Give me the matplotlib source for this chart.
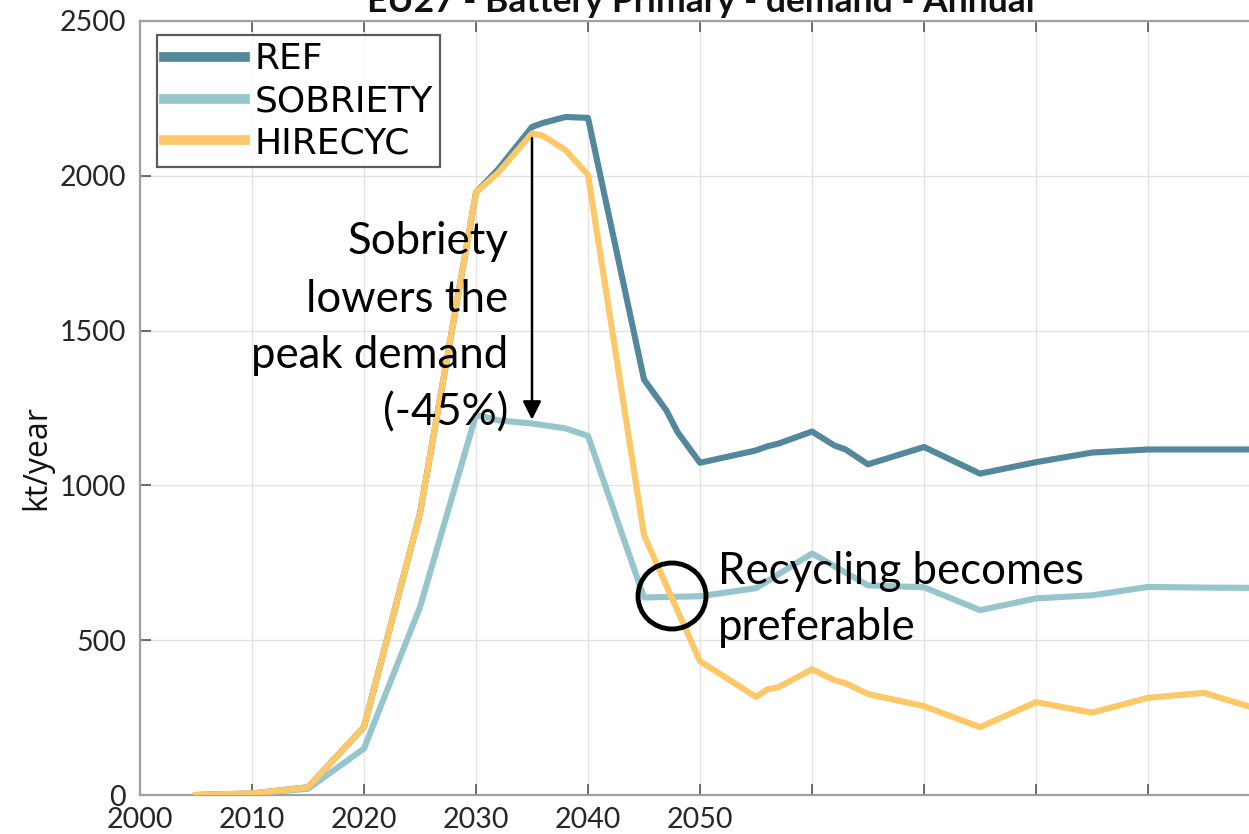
import matplotlib
matplotlib.use("Agg")
import matplotlib.pyplot as plt
from matplotlib.lines import Line2D
from matplotlib.patches import Ellipse

# ---------------- data ----------------
ref_years = [2005, 2010, 2015, 2020, 2025, 2030, 2032, 2035, 2036, 2038, 2040,
             2045, 2047, 2048, 2050, 2055, 2056, 2057, 2060, 2062, 2063, 2065,
             2070, 2075, 2080, 2085, 2090, 2095, 2100]
ref_vals = [0, 5, 25, 220, 910, 1946, 2022, 2158, 2171, 2190, 2187,
            1342, 1242, 1172, 1073, 1113, 1126, 1135, 1174, 1129, 1116, 1068,
            1124, 1038, 1075, 1106, 1116, 1116, 1116]

sob_years = [2005, 2010, 2015, 2020, 2025, 2030, 2032, 2035, 2038, 2040, 2045,
             2050, 2055, 2060, 2065, 2070, 2075, 2080, 2085, 2090, 2095, 2100]
sob_vals = [0, 5, 20, 150, 607, 1228, 1210, 1200, 1184, 1160, 638,
            642, 668, 780, 677, 671, 597, 635, 645, 672, 670, 669]

hir_years = [2005, 2010, 2015, 2020, 2025, 2030, 2032, 2035, 2036, 2038, 2040,
             2045, 2050, 2055, 2056, 2057, 2060, 2062, 2063, 2065, 2070, 2075,
             2080, 2085, 2090, 2095, 2100]
hir_vals = [0, 5, 25, 220, 910, 1946, 2011, 2137, 2129, 2083, 2003,
            839, 432, 317, 341, 348, 406, 371, 361, 326, 287, 219,
            300, 266, 314, 330, 275]

series_names = ["REF", "SOBRIETY", "HIRECYC"]
series_colors = ["#53879b", "#96c6cc", "#fdc868"]

x_ticks = list(range(2000, 2101, 10))
x_labels = ["2000", "2010", "2020", "2030", "2040", "2050", "", "", "", "", ""]
y_ticks = [0, 500, 1000, 1500, 2000, 2500]

title = "EU27 - Battery Primary - demand - Annual"
ylabel = "kt/year"
note_peak = ["Sobriety", "lowers the", "peak demand", "(-45%)"]
note_recycle = ["Recycling becomes", "preferable"]

# ---------------- figure ----------------
W, H = 1249, 834
fig = plt.figure(figsize=(W / 100, H / 100), dpi=100)
fig.patch.set_facecolor("white")

ax_left, ax_right, ax_top, ax_bottom = 140, 1260, 21, 795
ax = fig.add_axes([ax_left / W, 1 - ax_bottom / H,
                   (ax_right - ax_left) / W, (ax_bottom - ax_top) / H])
ax.set_xlim(2000, 2100)
ax.set_ylim(0, 2500)

ax.plot(ref_years, ref_vals, color=series_colors[0], lw=4.4, solid_joinstyle="round", zorder=3)
ax.plot(sob_years, sob_vals, color=series_colors[1], lw=4.4, solid_joinstyle="round", zorder=4)
ax.plot(hir_years, hir_vals, color=series_colors[2], lw=4.4, solid_joinstyle="round", zorder=5)

ax.set_xticks(x_ticks)
ax.set_xticklabels(x_labels)
ax.set_yticks(y_ticks)
ax.grid(True, color="#e2e2e2", lw=1.0, zorder=0)
ax.set_axisbelow(True)

for s in ax.spines.values():
    s.set_color("#a0a0a0")
    s.set_linewidth(1.6)

ax.tick_params(axis="both", direction="in", length=8, width=1.2, color="#555555",
               top=True, right=True, labelsize=20.5, labelcolor="#262626")
ax.tick_params(axis="x", pad=9)
ax.tick_params(axis="y", pad=10)
for lab in ax.get_xticklabels() + ax.get_yticklabels():
    lab.set_family(["Lato", "DejaVu Sans"])

# title (cut at the top like the reference)
fig.text(701 / W, 1 - 12 / H, title, ha="center", va="baseline",
         fontsize=25.5, fontweight="bold", family=["Lato", "DejaVu Sans"], color="#111111")

# y label
fig.text(37 / W, 1 - 458 / H, ylabel, rotation=90, ha="center", va="center",
         fontsize=23, family=["Open Sans", "DejaVu Sans"], color="#111111")

# legend
handles = [Line2D([0], [0], color=c, lw=7) for c in series_colors]
leg = ax.legend(handles, series_names, loc="upper left",
                bbox_to_anchor=((157 - 140) / 1120, (795 - 35) / 774),
                borderaxespad=0, frameon=True, fancybox=False,
                prop={"family": ["DejaVu Sans"], "size": 26},
                handlelength=2.25, handletextpad=0.25, labelspacing=0.22,
                borderpad=0.2)
leg.get_frame().set_edgecolor("#333333")
leg.get_frame().set_linewidth(1.6)
leg.set_zorder(10)

# annotation: arrow
ax.annotate("", xy=(2035, 1212), xytext=(2035, 2122),
            arrowprops=dict(arrowstyle="-|>", color="black", lw=1.8,
                            mutation_scale=28, shrinkA=0, shrinkB=0),
            zorder=8)

def ytop(ypx):
    return (795 - ypx) / 0.30960

def xdat(xpx):
    return 2000 + (xpx - 140) / 11.2

for i, line in enumerate(note_peak):
    ax.text(xdat(508), ytop([254, 312, 368, 425][i]), line, ha="right", va="baseline",
            fontsize=31.5, family=["Lato", "DejaVu Sans"], color="black", zorder=9)

for i, line in enumerate(note_recycle):
    ax.text(xdat(718), ytop([584, 640][i]), line, ha="left", va="baseline",
            fontsize=31.5, family=["Lato", "DejaVu Sans"], color="black", zorder=9)

ell = Ellipse((xdat(672), ytop(596)), width=68 / 11.2, height=66 / 0.3096,
              fill=False, edgecolor="black", lw=3.5, zorder=9)
ax.add_patch(ell)

fig.savefig("out.png", dpi=100)
